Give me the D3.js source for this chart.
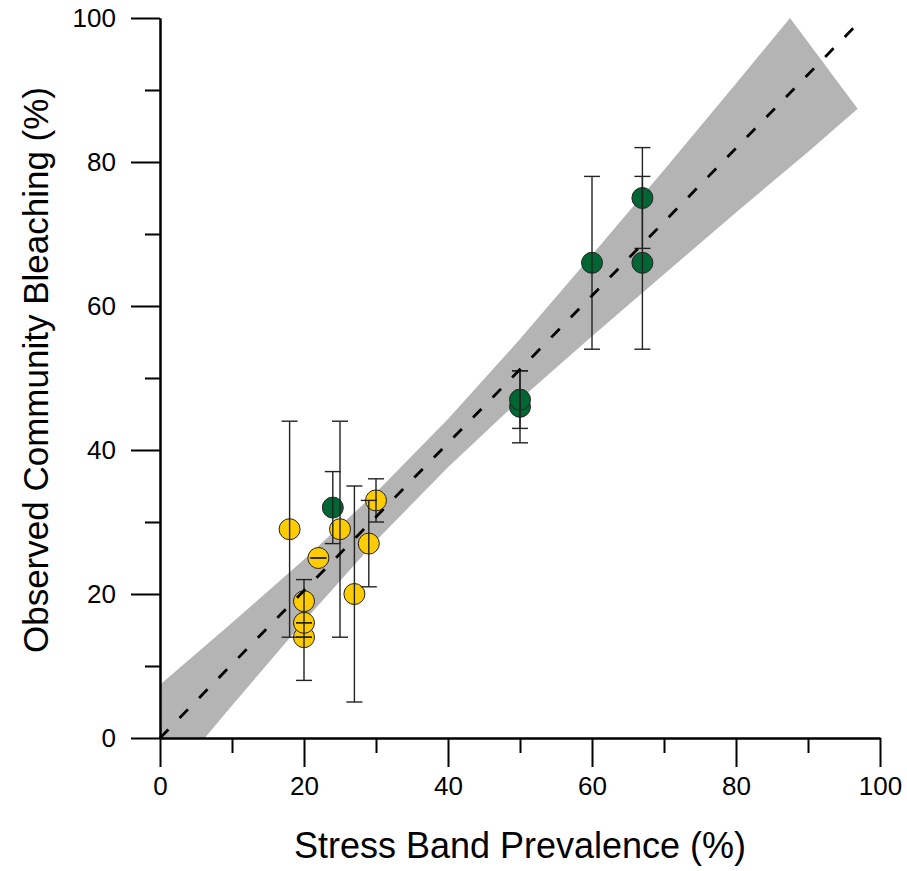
<!DOCTYPE html>
<html>
<head>
<meta charset="utf-8">
<script src="https://cdn.jsdelivr.net/npm/d3@7/dist/d3.min.js"></script>
<style>
  body { margin: 0; background: #fff; }
  text { font-family: Arial, "Liberation Sans", sans-serif; }
</style>
</head>
<body>
<svg width="907" height="871"></svg>
<script>
// observations: stress band prevalence vs observed bleaching
var prevalence = [18, 20, 20, 20, 22, 25, 27, 29, 30, 24, 50, 50, 60, 67, 67];
var bleaching  = [29, 14, 16, 19, 25, 29, 20, 27, 33, 32, 46, 47, 66, 66, 75];
var errLow     = [14, 14, 16,  8, 25, 14,  5, 21, 30, 27, 41, 43, 54, 54, 68];
var errHigh    = [44, 14, 16, 22, 25, 44, 35, 33, 36, 37, 51, 51, 78, 78, 82];
var group      = ["y","y","y","y","y","y","y","y","y","g","g","g","g","g","g"];

// regression line and confidence band
var fitX = [0, 96.3];
var fitY = [0, 98.6];
var bandUpperX = [0, 10, 20, 30, 40, 50, 60, 70, 80, 87.5];
var bandUpperY = [7.4, 16.0, 24.8, 34.1, 44.3, 55.4, 67.1, 78.9, 90.9, 100];
var bandLowerX = [0, 10, 20, 30, 40, 50, 60, 70, 80, 90, 96.9];
var bandLowerY = [-7.4, 4.5, 16.2, 27.4, 37.6, 47.0, 55.8, 64.4, 73.0, 81.4, 87.4];

var majorTicks = [0, 20, 40, 60, 80, 100];
var minorTicks = [10, 30, 50, 70, 90];

var colors = { y: "#FFCC00", g: "#006633" };

var svg = d3.select("svg"),
    margin = {top: 18, right: 27, bottom: 133, left: 160},
    width = +svg.attr("width") - margin.left - margin.right,
    height = +svg.attr("height") - margin.top - margin.bottom;

var x = d3.scaleLinear().domain([0, 100]).range([0, width]),
    y = d3.scaleLinear().domain([0, 100]).range([height, 0]);

var g = svg.append("g")
    .attr("transform", "translate(" + margin.left + "," + margin.top + ")");

g.append("clipPath").attr("id", "plotclip")
  .append("rect").attr("width", width).attr("height", height);

// confidence band
var band = bandUpperX.map(function(d, i) { return [d, bandUpperY[i]]; });
for (var i = bandLowerX.length - 1; i >= 0; i--) band.push([bandLowerX[i], bandLowerY[i]]);

g.append("path")
    .datum(band)
    .attr("clip-path", "url(#plotclip)")
    .attr("fill", "#b4b4b4")
    .attr("d", d3.line().x(function(d) { return x(d[0]); }).y(function(d) { return y(d[1]); }));

var pts = prevalence.map(function(d, i) {
  return {x: d, y: bleaching[i], lo: errLow[i], hi: errHigh[i], c: group[i]};
});

// points
g.selectAll(".dot")
  .data(pts)
  .enter().append("circle")
    .attr("class", "dot")
    .attr("cx", function(d) { return x(d.x); })
    .attr("cy", function(d) { return y(d.y); })
    .attr("r", 10.5)
    .attr("fill", function(d) { return colors[d.c]; })
    .attr("stroke", "#222")
    .attr("stroke-width", 1);

// error bars
var eb = g.selectAll(".err").data(pts).enter().append("g")
    .attr("class", "err")
    .attr("stroke", "#222")
    .attr("stroke-width", 1.4);

eb.append("line")
    .attr("x1", function(d) { return x(d.x); })
    .attr("x2", function(d) { return x(d.x); })
    .attr("y1", function(d) { return y(d.lo); })
    .attr("y2", function(d) { return y(d.hi); });
eb.append("line")
    .attr("x1", function(d) { return x(d.x) - 8; })
    .attr("x2", function(d) { return x(d.x) + 8; })
    .attr("y1", function(d) { return y(d.lo); })
    .attr("y2", function(d) { return y(d.lo); });
eb.append("line")
    .attr("x1", function(d) { return x(d.x) - 8; })
    .attr("x2", function(d) { return x(d.x) + 8; })
    .attr("y1", function(d) { return y(d.hi); })
    .attr("y2", function(d) { return y(d.hi); });

// fitted line
g.append("line")
    .attr("x1", x(fitX[0])).attr("y1", y(fitY[0]))
    .attr("x2", x(fitX[1])).attr("y2", y(fitY[1]))
    .attr("stroke", "#000")
    .attr("stroke-width", 2.8)
    .attr("stroke-dasharray", "12,16");

// axes
function styleAxis(sel) {
  sel.selectAll("path, line").attr("stroke", "#000").attr("stroke-width", 2);
  sel.selectAll("text").attr("fill", "#000").style("font-size", "26px")
     .style("font-family", "Arial, 'Liberation Sans', sans-serif");
}

g.append("g")
    .attr("transform", "translate(0," + height + ")")
    .call(d3.axisBottom(x).tickValues(minorTicks).tickSize(15).tickSizeOuter(0).tickFormat(""))
    .call(styleAxis);
g.append("g")
    .attr("transform", "translate(0," + height + ")")
    .call(d3.axisBottom(x).tickValues(majorTicks).tickSize(29).tickSizeOuter(0).tickPadding(10))
    .call(styleAxis);

g.append("g")
    .call(d3.axisLeft(y).tickValues(minorTicks).tickSize(15).tickSizeOuter(0).tickFormat(""))
    .call(styleAxis);
g.append("g")
    .call(d3.axisLeft(y).tickValues(majorTicks).tickSize(29).tickSizeOuter(0).tickPadding(15))
    .call(styleAxis);

// axis titles
svg.append("text")
    .attr("x", margin.left + width / 2)
    .attr("y", 858)
    .attr("text-anchor", "middle")
    .style("font-size", "36px")
    .attr("fill", "#000")
    .text("Stress Band Prevalence (%)");

svg.append("text")
    .attr("transform", "translate(48,370) rotate(-90)")
    .attr("text-anchor", "middle")
    .style("font-size", "35px")
    .attr("fill", "#000")
    .text("Observed Community Bleaching (%)");
</script>
</body>
</html>
